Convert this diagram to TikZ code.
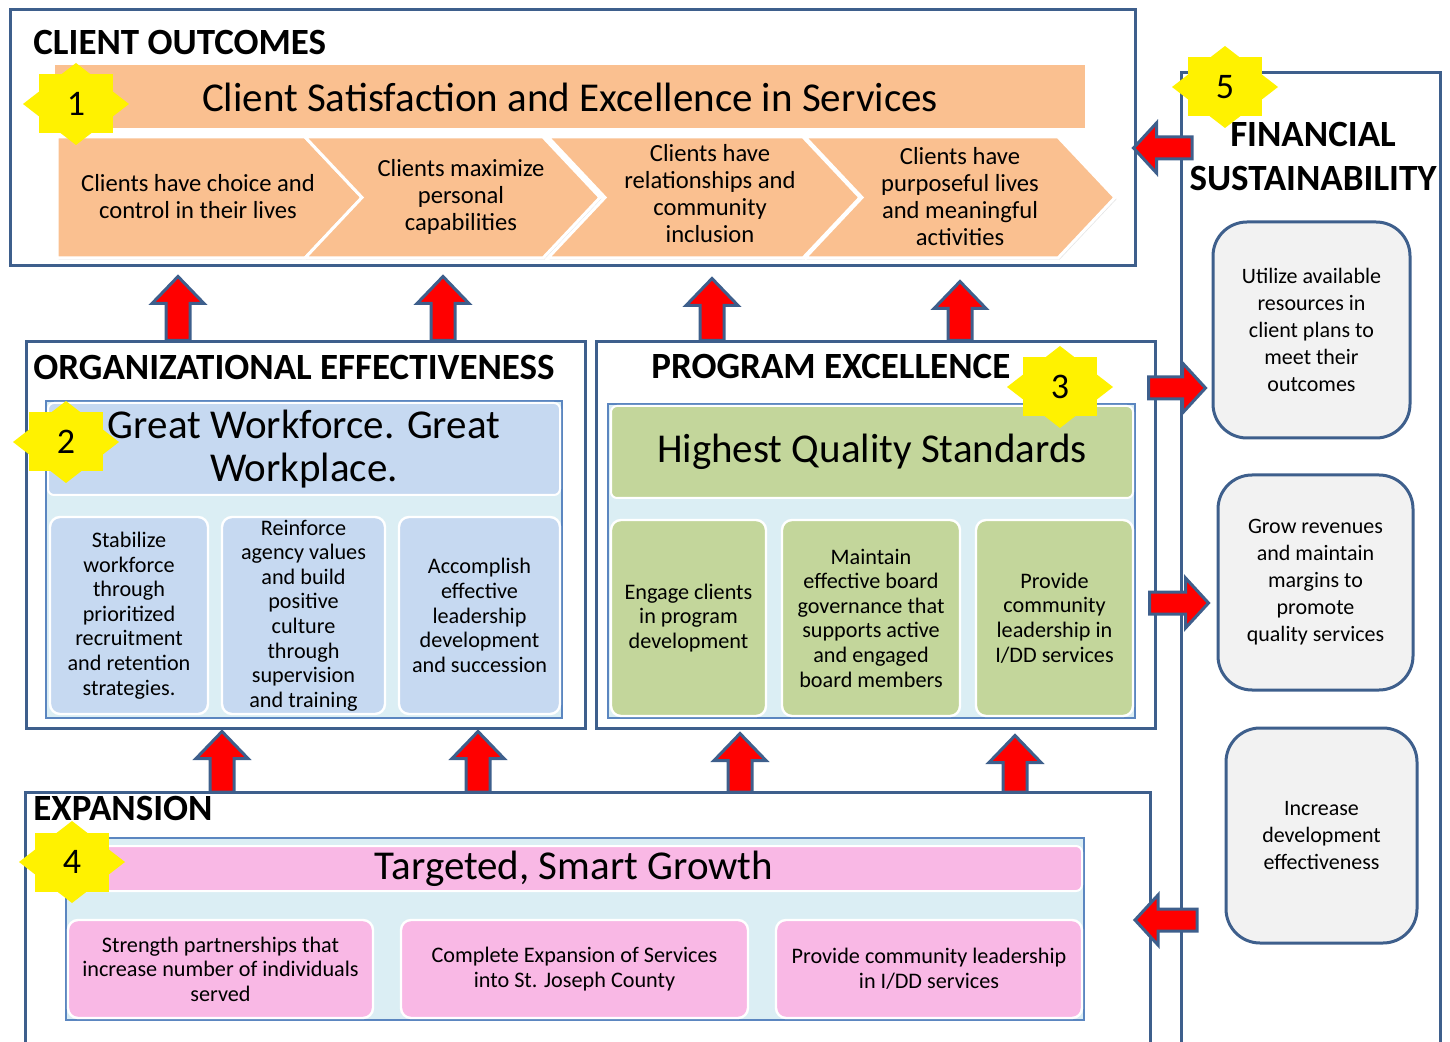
\documentclass[tikz,border=0pt]{standalone}
\usepackage{fontspec}
\setmainfont{Carlito}
\usetikzlibrary{calc,shadows}

\definecolor{framecol}{HTML}{3E5F8C}
\definecolor{orangefill}{HTML}{FAC090}
\definecolor{bluefill}{HTML}{C6D9F1}
\definecolor{cyanfill}{HTML}{DBEEF4}
\definecolor{greenfill}{HTML}{C3D69B}
\definecolor{pinkfill}{HTML}{F9B8E5}
\definecolor{grayfill}{HTML}{F2F2F2}
\definecolor{holdline}{HTML}{5B86C0}

\tikzset{
  secframe/.style={draw=framecol, line width=1.5pt, fill=white},
  secttl/.style={font=\fontsize{18.5}{22}\selectfont\bfseries, inner sep=0pt},
  holder/.style={draw=holdline, line width=0.6pt, fill=cyanfill},
  banner/.style={draw=white, line width=1pt, rounded corners=3pt, inner sep=0pt,
    font=\fontsize{20.5}{21.5}\selectfont, align=center},
  itembox/.style 2 args={draw=white, line width=1.2pt, rounded corners=5pt, inner sep=0.5pt,
    minimum width=#1, minimum height=#2, align=center, font=\fontsize{11.1}{12.3}\selectfont},
  finbox/.style={draw=framecol, line width=1.5pt, fill=grayfill, rounded corners=17pt,
    align=center, font=\fontsize{11}{13.5}\selectfont},
  chevron/.style={fill=orangefill, draw=white, line width=1.5pt,
    drop shadow={shadow xshift=0.8pt, shadow yshift=-0.8pt, opacity=0.2}},
  chevtext/.style={align=center, inner sep=0pt, font=\fontsize{12.3}{13.5}\selectfont},
  blockarrow/.style={fill=red, draw=framecol, line width=1.5pt, line join=miter},
  badge/.style={fill=yellow},
  badgenum/.style={inner sep=0pt, font=\fontsize{18}{20}\selectfont},
}

% block arrow pointing up: tip, tail
\newcommand{\blockup}[2]{%
  \filldraw[blockarrow] ([shift={(-12,0)}]#2) -- ([shift={(-12,27)}]#1) -- ([shift={(-26,27)}]#1)
    -- (#1) -- ([shift={(26,27)}]#1) -- ([shift={(12,27)}]#1) -- ([shift={(12,0)}]#2) -- cycle;}
% block arrow sideways: tip, tail, offset of head base from tip
\newcommand{\blockh}[3]{%
  \filldraw[blockarrow] ([shift={(0,-11)}]#2) -- ([shift={(#3,-11)}]#1) -- ([shift={(#3,-25)}]#1)
    -- (#1) -- ([shift={(#3,25)}]#1) -- ([shift={(#3,11)}]#1) -- ([shift={(0,11)}]#2) -- cycle;}
% numbered star
\newcommand{\badgestar}[3]{%
  \fill[badge] ([shift={(-37,-29.5)}]#1) rectangle ([shift={(37,29.5)}]#1);
  \fill[badge] ([shift={(0,-41)}]#1) -- ([shift={(53,0)}]#1) -- ([shift={(0,41)}]#1)
    -- ([shift={(-53,0)}]#1) -- cycle;
  \node[badgenum] (#2) at (#1) {#3};}

\begin{document}
\begin{tikzpicture}[x=0.5pt, y=-0.5pt]
\useasboundingbox (0,0) rectangle (1450,1042);

% section frames
\node[secframe, minimum width=562.5pt, minimum height=128pt] (outframe) at (572.5,138) {};
\node[secframe, minimum width=279.5pt, minimum height=193pt] (orgframe) at (305.5,535) {};
\node[secframe, minimum width=279.5pt, minimum height=193pt] (progframe) at (875.5,535) {};
\draw[secframe] (25,1060) -- (25,792) coordinate (expNW) -- (1150,792) coordinate (expNE) -- (1150,1060);
\draw[secframe] (1181,1060) -- (1181,73) coordinate (finNW) -- (1440,73) -- (1440,1060);

% titles
\node[secttl, anchor=base west] (outttl) at (33,55) {CLIENT OUTCOMES};
\node[secttl, anchor=base west] (orgttl) at (33,380) {ORGANIZATIONAL EFFECTIVENESS};
\node[secttl, anchor=base west] (progttl) at (651,379) {PROGRAM EXCELLENCE};
\node[secttl, anchor=base west] (expttl) at (33,820) {EXPANSION};
\node[secttl, align=center] (finttl) at (1313,157) {FINANCIAL\\SUSTAINABILITY};

% client outcomes
\node[fill=orangefill, inner sep=0pt, minimum width=515pt, minimum height=31.5pt,
  font=\fontsize{20.5}{24}\selectfont] (satis) at (570,97) {Client Satisfaction and Excellence in Services};
\foreach \l/\t/\n in {57/362/0, 305/600/57, 548/860/57, 805/1115/57}
  \filldraw[chevron] (\l,137) -- (\t-57,137) -- (\t,197.5) -- (\t-57,258) -- (\l,258) -- (\l+\n,197.5) -- cycle;
\node[chevtext] (ch1) at (198,197) {Clients have choice and\\control in their lives};
\node[chevtext] (ch2) at (461,197) {Clients maximize\\personal\\capabilities};
\node[chevtext] (ch3) at (710,194) {Clients have\\relationships and\\community\\inclusion};
\node[chevtext] (ch4) at (960,197) {Clients have\\purposeful lives\\and meaningful\\activities};

% organizational effectiveness
\node[holder, minimum width=258pt, minimum height=158.5pt] (orghold) at (304,559.5) {};
\node[banner, fill=bluefill, minimum width=256pt, minimum height=46pt] (workforce) at (304,449) {Great Workforce. Great\\Workplace.};
\node[itembox={79pt}{98.5pt}, fill=bluefill] (org1) at (129,615.5) {Stabilize\\workforce\\through\\prioritized\\recruitment\\and retention\\strategies.};
\node[itembox={81.5pt}{98.5pt}, fill=bluefill] (org2) at (303.5,615.5) {Reinforce\\agency values\\and build\\positive\\culture\\through\\supervision\\and training};
\node[itembox={80.5pt}{98.5pt}, fill=bluefill] (org3) at (479.5,615.5) {Accomplish\\effective\\leadership\\development\\and succession};

% program excellence
\node[holder, minimum width=263.5pt, minimum height=157pt] (proghold) at (871.5,561) {};
\node[banner, fill=greenfill, minimum width=261pt, minimum height=46pt] (quality) at (872,452) {Highest Quality Standards};
\node[itembox={77.5pt}{98pt}, fill=greenfill] (prog1) at (688.5,618) {Engage clients\\in program\\development};
\node[itembox={89pt}{98pt}, fill=greenfill] (prog2) at (871,618) {Maintain\\effective board\\governance that\\supports active\\and engaged\\board members};
\node[itembox={78.5pt}{98pt}, fill=greenfill] (prog3) at (1054.5,618) {Provide\\community\\leadership in\\I/DD services};

% expansion
\node[holder, minimum width=509pt, minimum height=91pt] (exphold) at (575,929) {};
\node[banner, fill=pinkfill, minimum width=508pt, minimum height=22.5pt] (growth) at (574,868.5) {Targeted, Smart Growth};
\node[itembox={152.5pt}{49pt}, fill=pinkfill] (exp1) at (220.5,969) {Strength partnerships that\\increase number of individuals\\served};
\node[itembox={173.5pt}{49pt}, fill=pinkfill] (exp2) at (574.5,969) {Complete Expansion of Services\\into St. Joseph County};
\node[itembox={153pt}{49pt}, fill=pinkfill] (exp3) at (929,969) {Provide community leadership\\in I/DD services};

% financial sustainability
\node[finbox, minimum width=98.5pt, minimum height=108pt] (fin1) at (1311.5,330) {Utilize available\\resources in\\client plans to\\meet their\\outcomes};
\node[finbox, minimum width=97.5pt, minimum height=107.5pt] (fin2) at (1315.5,582.5) {Grow revenues\\and maintain\\margins to\\promote\\quality services};
\node[finbox, minimum width=95.5pt, minimum height=107.5pt] (fin3) at (1321.5,835.5) {Increase\\development\\effectiveness};

% arrows up
\foreach \x/\g [count=\i] in {178/9, 443/9, 712/11, 960/14}{
  \coordinate (upt\i) at ($(\x,0 |- outframe.south)+(0,\g)$);
  \coordinate (upb\i) at (\x,0 |- orgframe.north);
  \blockup{upt\i}{upb\i}
}
\foreach \x/\g [count=\i] in {222/2, 478/2, 740/4, 1015/6}{
  \coordinate (lowt\i) at ($(\x,0 |- orgframe.south)+(0,\g)$);
  \coordinate (lowb\i) at (\x,0 |- expNW);
  \blockup{lowt\i}{lowb\i}
}

% arrows sideways
\coordinate (l1tip) at ($(outframe.east |- 0,148)+(-3,0)$);
\coordinate (l1tail) at ($(finNW |- 0,148)+(11,0)$);
\blockh{l1tip}{l1tail}{23}
\coordinate (r1tip) at ($(fin1.west)+(-6,58)$);
\coordinate (r1tail) at ($(progframe.east |- r1tip)+(-8,0)$);
\blockh{r1tip}{r1tail}{-23}
\coordinate (r2tip) at ($(fin2.west)+(-8,20.5)$);
\coordinate (r2tail) at ($(progframe.east |- r2tip)+(-7,0)$);
\blockh{r2tip}{r2tail}{-23}
\coordinate (l2tip) at ($(expNE |- 0,920)+(-15,0)$);
\coordinate (l2tail) at ($(finNW |- 0,920)+(16,0)$);
\blockh{l2tip}{l2tail}{23}

% numbered stars
\coordinate (s1) at (76,104);
\coordinate (s2) at (66,442);
\coordinate (s3) at (1060,387);
\coordinate (s4) at (72,862);
\coordinate (s5) at (1225,87);
\badgestar{s1}{n1}{1}
\badgestar{s2}{n2}{2}
\badgestar{s3}{n3}{3}
\badgestar{s4}{n4}{4}
\badgestar{s5}{n5}{5}
\end{tikzpicture}
\end{document}
